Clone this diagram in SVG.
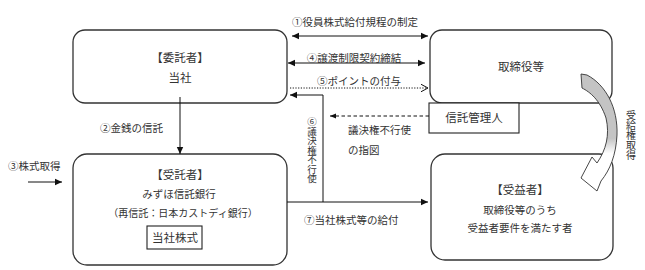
<svg xmlns="http://www.w3.org/2000/svg" width="645" height="270" viewBox="0 0 645 270">
<defs>
<marker id="ah" markerWidth="8" markerHeight="8" refX="7" refY="4" orient="auto-start-reverse" markerUnits="userSpaceOnUse"><path d="M0,0.8 L7,4 L0,7.2 Z" fill="#111"/></marker>
<marker id="ahs" markerWidth="7" markerHeight="7" refX="6" refY="3.5" orient="auto" markerUnits="userSpaceOnUse"><path d="M0,1 L6,3.5 L0,6 Z" fill="#111"/></marker>
<marker id="open" markerWidth="9" markerHeight="10" refX="7.5" refY="5" orient="auto" markerUnits="userSpaceOnUse"><path d="M0,1 L7.5,5 L0,9" fill="none" stroke="#111" stroke-width="1"/></marker>
<linearGradient id="gr" x1="0" y1="0" x2="0" y2="1">
<stop offset="0" stop-color="#c4c4c4"/>
<stop offset="0.55" stop-color="#c4c4c4"/>
<stop offset="0.68" stop-color="#ffffff"/>
<stop offset="1" stop-color="#ffffff"/>
</linearGradient>
</defs>
<style>
.box{fill:#fff;stroke:#333;stroke-width:1.3}
.sq{fill:#fff;stroke:#222;stroke-width:1.1}
.t{font-family:"Noto Sans CJK JP","Noto Sans CJK SC",sans-serif;font-size:10.5px;fill:#333}
.b{font-size:11.5px}
.m{text-anchor:middle}
.v{font-size:9.5px;writing-mode:vertical-rl;text-orientation:upright}
.ln{stroke:#111;stroke-width:1;fill:none}
</style>

<g id="itakusha">
<rect class="box" x="73" y="30" width="214" height="73" rx="12"/>
<text class="t b m" x="180" y="62">【委託者】</text>
<text class="t b m" x="180" y="82">当社</text>
</g>

<g id="torishimariyaku">
<rect class="box" x="430" y="30" width="182" height="73" rx="12"/>
<text class="t b m" x="521" y="71">取締役等</text>
</g>

<g id="shintaku-kanrinin">
<rect class="sq" x="429" y="103" width="90" height="30"/>
<text class="t b m" x="474" y="122">信託管理人</text>
</g>

<g id="jutakusha">
<rect class="box" x="73" y="154" width="214" height="111" rx="14"/>
<text class="t b m" x="180" y="179">【受託者】</text>
<text class="t m" x="179" y="198">みずほ信託銀行</text>
<text class="t m" style="font-size:10px" x="183" y="217">（再信託：日本カストディ銀行）</text>
<rect class="sq" x="147" y="226" width="55" height="23"/>
<text class="t b m" x="175" y="242">当社株式</text>
</g>

<g id="juekisha">
<rect class="box" x="431" y="154" width="182" height="106" rx="14"/>
<text class="t b m" x="520" y="194">【受益者】</text>
<text class="t m" x="520" y="214">取締役等のうち</text>
<text class="t m" x="520" y="232">受益者要件を満たす者</text>
</g>

<g id="connectors">
<line class="ln" x1="292" y1="36" x2="428" y2="36" marker-start="url(#ah)" marker-end="url(#ah)"/>
<line class="ln" x1="288" y1="63" x2="425" y2="63" marker-start="url(#ah)" marker-end="url(#ah)"/>
<line class="ln" x1="290" y1="88" x2="428" y2="88" stroke-dasharray="1.2 1.5" marker-end="url(#open)"/>
<path class="ln" d="M323,202 L323,95 L290,95" marker-end="url(#ah)"/>
<line class="ln" x1="287" y1="202" x2="428" y2="202" marker-end="url(#ah)"/>
<line class="ln" x1="429" y1="116" x2="330" y2="116" stroke-dasharray="3.5 2.5" marker-end="url(#ahs)"/>
<line class="ln" x1="180" y1="97" x2="180" y2="154" marker-end="url(#ah)"/>
<line class="ln" x1="28" y1="182" x2="62" y2="182" marker-end="url(#ah)"/>
<path d="M581,74 L587,75 C606,85 618,108 617,135 C616,155 610,170 601,181 L597,191 L581,178 L592,157 L597,163 C606,150 610,135 606,118 C600,100 590,92 582,88 Z" fill="url(#gr)" stroke="#333" stroke-width="0.9"/>
</g>

<g id="labels">
<text class="t m" x="355" y="26">①役員株式給付規程の制定</text>
<text class="t m" x="354" y="62">④譲渡制限契約締結</text>
<text class="t m" x="359" y="85">⑤ポイントの付与</text>
<text class="t v" x="312" y="117">⑥議決権不行使</text>
<text class="t" x="348" y="134">議決権不行使</text>
<text class="t" x="348" y="154">の指図</text>
<text class="t" x="304" y="224">⑦当社株式等の給付</text>
<text class="t" x="100" y="132">②金銭の信託</text>
<text class="t" x="8" y="170">③株式取得</text>
<text class="t v" style="font-size:10px" x="631" y="110">受給権取得</text>
</g>
</svg>
